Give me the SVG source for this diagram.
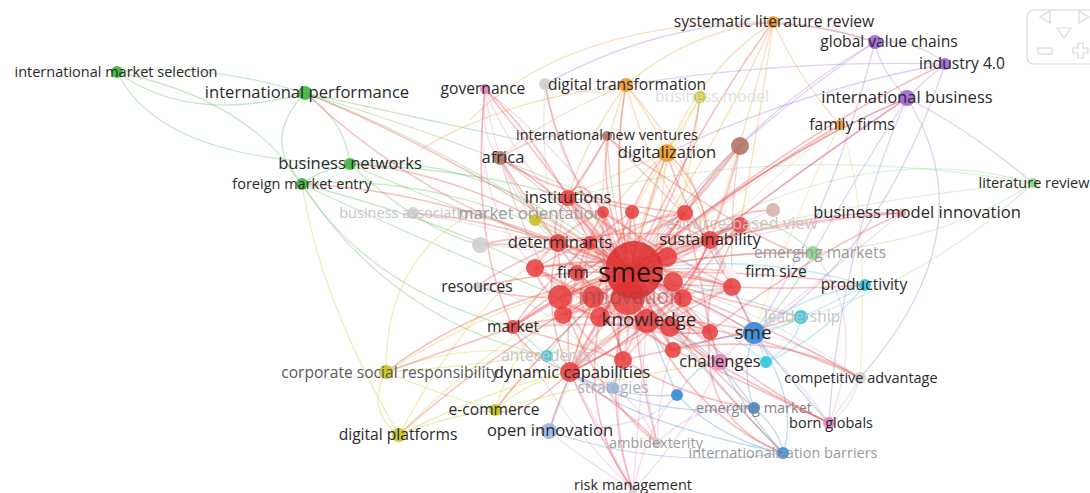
<svg xmlns="http://www.w3.org/2000/svg" width="1090" height="493" viewBox="0 0 1090 493">
<style>
.e{fill:none;stroke-width:1.3;stroke-opacity:.32}
.r{stroke:#ec5050;stroke-width:1.6;stroke-opacity:.36}.rr{stroke:#f06060;stroke-width:2.2;stroke-opacity:.3}
.g{stroke:#50b850}.lg{stroke:#8cd88c}.o{stroke:#f09a30}.lo{stroke:#f3c070}
.p{stroke:#a070d8}.y{stroke:#c8c828}.k{stroke:#e890c8}.n{stroke:#b07868}.gr{stroke:#c0c0c0}
.b{stroke:#3a88d8}.lb{stroke:#9ab8e6}.c{stroke:#30c4d8}
text{font-family:"Open Sans","Noto Sans","Liberation Sans",sans-serif;text-anchor:middle;fill:#2a2a2a}
text.f1{fill:#9a9a9a}text.f2{fill:#c4c4c4}text.f3{fill:#dedede}text.f4{fill:#5a5a5a}text.f5{fill:#858585}
text.fs{fill:#aab0c0}text.frbv{fill:#d2c0c0}text.finn{fill:#8a4848}text.fsmes{fill:#2a1010}
circle{fill-opacity:.9}
.cr{fill:#e63e3e;fill-opacity:.86}.cg{fill:#3cb43c}.co{fill:#f09a28}.cp{fill:#9c64d4}.cy{fill:#c4c41c}.ck{fill:#e684c2}
.cn{fill:#b07464}.cgr{fill:#cfcfcf}.cb{fill:#3888d6}.clb{fill:#9ab8e6}.cc{fill:#30c6da}.clg{fill:#8cd88c}
.s13{font-size:14.5px}.s14{font-size:15.6px}.s15{font-size:16.6px}.s17{font-size:18.8px}
</style>
<rect width="1090" height="493" fill="#ffffff"/>
<g id="edges">
<path class="e g" d="M117,72 Q205,62 305,93"/>
<path class="e g" d="M117,72 Q190,125 305,93"/>
<path class="e g" d="M117,72 Q160,160 350,164"/>
<path class="e g" d="M117,72 Q250,100 302,184"/>
<path class="e g" d="M305,93 Q345,120 350,164"/>
<path class="e g" d="M305,93 Q260,140 302,184"/>
<path class="e g" d="M305,93 Q460,150 630,272"/>
<path class="e g" d="M305,93 Q430,120 520,140"/>
<path class="e g" d="M305,93 Q460,140 600,200"/>
<path class="e g" d="M350,164 Q320,170 302,184"/>
<path class="e g" d="M350,164 Q490,150 630,272"/>
<path class="e g" d="M350,164 Q480,170 568,198"/>
<path class="e g" d="M350,164 Q430,200 558,243"/>
<path class="e g" d="M302,184 Q460,170 630,272"/>
<path class="e g" d="M302,184 Q420,240 560,297"/>
<path class="e g" d="M302,184 Q370,290 513,327"/>
<path class="e g" d="M302,184 Q390,320 547,356"/>
<path class="e g" d="M302,184 Q440,220 535,268"/>
<path class="e g" d="M350,164 Q420,230 480,245"/>
<path class="e g" d="M813,253 Q720,250 630,272"/>
<path class="e g" d="M813,253 Q790,300 754,333"/>
<path class="e g" d="M813,253 Q760,200 710,240"/>
<path class="e lg" d="M1033,183 Q850,130 630,272"/>
<path class="e lg" d="M1033,183 Q950,240 813,253"/>
<path class="e lg" d="M1033,183 Q920,290 754,333"/>
<path class="e lg" d="M1033,183 Q850,200 710,240"/>
<path class="e lg" d="M1033,183 Q780,140 568,198"/>
<path class="e o" d="M773,22 Q690,30 626,85"/>
<path class="e o" d="M773,22 Q700,70 667,153"/>
<path class="e o" d="M773,22 Q710,160 630,272"/>
<path class="e o" d="M773,22 Q740,150 710,240"/>
<path class="e o" d="M773,22 Q825,25 875,42"/>
<path class="e o" d="M773,22 Q800,80 840,125"/>
<path class="e o" d="M773,22 Q570,20 470,120"/>
<path class="e o" d="M773,22 Q760,120 740,225"/>
<path class="e o" d="M626,85 Q650,115 667,153"/>
<path class="e o" d="M626,85 Q610,180 630,272"/>
<path class="e o" d="M626,85 Q570,160 558,243"/>
<path class="e o" d="M626,85 Q650,170 685,213"/>
<path class="e o" d="M626,85 Q600,150 603,212"/>
<path class="e o" d="M626,85 Q700,170 710,240"/>
<path class="e o" d="M626,85 Q540,120 500,158"/>
<path class="e o" d="M626,85 Q500,100 420,150"/>
<path class="e o" d="M667,153 Q640,220 630,272"/>
<path class="e o" d="M667,153 Q600,180 568,198"/>
<path class="e o" d="M667,153 Q700,200 710,240"/>
<path class="e o" d="M667,153 Q600,260 570,372"/>
<path class="e o" d="M667,153 Q620,190 590,243"/>
<path class="e o" d="M667,153 Q660,220 647,321"/>
<path class="e lo" d="M840,125 Q740,190 630,272"/>
<path class="e lo" d="M840,125 Q800,200 754,333"/>
<path class="e lo" d="M840,125 Q780,170 710,240"/>
<path class="e lo" d="M840,125 Q870,200 860,378"/>
<path class="e p" d="M875,42 Q880,70 907,98"/>
<path class="e p" d="M875,42 Q920,40 945,64"/>
<path class="e p" d="M945,64 Q925,80 907,98"/>
<path class="e p" d="M907,98 Q760,160 630,272"/>
<path class="e p" d="M907,98 Q800,170 710,240"/>
<path class="e p" d="M875,42 Q740,120 630,272"/>
<path class="e p" d="M875,42 Q830,220 754,333"/>
<path class="e p" d="M945,64 Q880,260 754,333"/>
<path class="e p" d="M907,98 Q990,230 860,378"/>
<path class="e p" d="M907,98 Q970,130 1033,183"/>
<path class="e p" d="M945,64 Q780,60 626,85"/>
<path class="e p" d="M945,64 Q800,90 667,153"/>
<path class="e p" d="M545,84 Q720,-10 875,42"/>
<path class="e p" d="M907,98 Q840,250 829,423"/>
<path class="e p" d="M875,42 Q790,100 740,146"/>
<path class="e p" d="M907,98 Q860,170 813,253"/>
<path class="e y" d="M386,372 Q365,410 399,435"/>
<path class="e y" d="M386,372 Q440,395 495,410"/>
<path class="e y" d="M399,435 Q450,415 495,410"/>
<path class="e y" d="M386,372 Q500,300 630,272"/>
<path class="e y" d="M495,410 Q560,330 630,272"/>
<path class="e y" d="M399,435 Q500,330 630,272"/>
<path class="e y" d="M386,372 Q385,260 470,215"/>
<path class="e y" d="M399,435 Q500,385 570,372"/>
<path class="e y" d="M495,410 Q530,380 570,372"/>
<path class="e y" d="M399,435 Q320,300 302,184"/>
<path class="e y" d="M386,372 Q470,340 547,356"/>
<path class="e y" d="M495,410 Q520,330 563,315"/>
<path class="e y" d="M700,97 Q690,180 667,257"/>
<path class="e y" d="M700,97 Q650,190 630,272"/>
<path class="e y" d="M700,97 Q680,130 667,153"/>
<path class="e y" d="M495,410 Q600,380 720,362"/>
<path class="e y" d="M399,435 Q470,300 560,243"/>
<path class="e y" d="M386,372 Q560,360 630,330"/>
<path class="e y" d="M535,220 Q580,250 630,272"/>
<path class="e k" d="M485,89 Q520,180 630,272"/>
<path class="e k" d="M485,89 Q480,140 500,158"/>
<path class="e k" d="M485,89 Q560,150 603,212"/>
<path class="e k" d="M485,89 Q500,200 558,243"/>
<path class="e k" d="M485,89 Q470,200 535,268"/>
<path class="e k" d="M720,362 Q680,310 630,272"/>
<path class="e k" d="M720,362 Q740,340 754,333"/>
<path class="e k" d="M829,423 Q760,320 630,272"/>
<path class="e k" d="M829,423 Q870,320 813,253"/>
<path class="e k" d="M829,423 Q790,400 754,408"/>
<path class="e k" d="M829,423 Q850,395 860,378"/>
<path class="e k" d="M902,213 Q780,220 630,272"/>
<path class="e k" d="M902,213 Q820,280 754,333"/>
<path class="e k" d="M633,490 Q600,430 570,372"/>
<path class="e k" d="M633,490 Q610,420 623,360"/>
<path class="e k" d="M633,490 Q650,420 677,395"/>
<path class="e k" d="M633,490 Q570,450 549,431"/>
<path class="e k" d="M633,490 Q690,430 720,362"/>
<path class="e k" d="M633,490 Q640,400 647,321"/>
<path class="e k" d="M633,490 Q560,420 513,327"/>
<path class="e k" d="M657,443 Q630,380 570,372"/>
<path class="e k" d="M657,443 Q660,380 673,350"/>
<path class="e k" d="M657,443 Q700,400 754,408"/>
<path class="e n" d="M500,158 Q560,200 630,272"/>
<path class="e n" d="M500,158 Q520,230 560,297"/>
<path class="e n" d="M500,158 Q550,125 607,136"/>
<path class="e n" d="M607,136 Q610,200 630,272"/>
<path class="e n" d="M607,136 Q590,170 568,198"/>
<path class="e n" d="M740,146 Q690,200 630,272"/>
<path class="e n" d="M740,146 Q730,200 732,287"/>
<path class="e n" d="M740,146 Q710,180 685,213"/>
<path class="e n" d="M500,158 Q520,200 558,243"/>
<path class="e n" d="M607,136 Q670,200 710,240"/>
<path class="e gr" d="M545,84 Q560,180 630,272"/>
<path class="e gr" d="M545,84 Q540,170 558,243"/>
<path class="e gr" d="M545,84 Q600,100 626,85"/>
<path class="e gr" d="M480,245 Q560,250 630,272"/>
<path class="e gr" d="M413,213 Q520,230 630,272"/>
<path class="e gr" d="M860,378 Q750,300 630,272"/>
<path class="e gr" d="M860,378 Q800,340 754,333"/>
<path class="e gr" d="M860,378 Q850,410 829,423"/>
<path class="e gr" d="M773,210 Q700,240 630,272"/>
<path class="e gr" d="M657,443 Q640,350 630,272"/>
<path class="e gr" d="M478,287 Q550,270 630,272"/>
<path class="e b" d="M754,333 Q690,295 630,272"/>
<path class="e b" d="M754,333 Q740,370 754,408"/>
<path class="e b" d="M754,333 Q800,400 783,453"/>
<path class="e b" d="M754,333 Q790,380 829,423"/>
<path class="e b" d="M754,408 Q780,430 783,453"/>
<path class="e b" d="M677,395 Q720,440 783,453"/>
<path class="e b" d="M783,453 Q680,350 630,272"/>
<path class="e b" d="M783,453 Q620,420 570,372"/>
<path class="e b" d="M783,453 Q660,470 549,431"/>
<path class="e b" d="M754,408 Q650,420 570,372"/>
<path class="e b" d="M677,395 Q650,330 630,272"/>
<path class="e b" d="M677,395 Q700,360 720,362"/>
<path class="e b" d="M754,333 Q700,340 673,350"/>
<path class="e b" d="M754,408 Q700,330 647,321"/>
<path class="e b" d="M783,453 Q720,380 710,332"/>
<path class="e b" d="M677,395 Q620,400 570,372"/>
<path class="e b" d="M754,333 Q720,260 710,240"/>
<path class="e lb" d="M549,431 Q580,350 630,272"/>
<path class="e lb" d="M549,431 Q560,400 570,372"/>
<path class="e lb" d="M613,388 Q620,330 630,272"/>
<path class="e lb" d="M549,431 Q650,430 677,395"/>
<path class="e lb" d="M613,388 Q560,300 478,287"/>
<path class="e c" d="M865,285 Q800,295 754,333"/>
<path class="e c" d="M865,285 Q750,250 630,272"/>
<path class="e c" d="M801,317 Q720,290 630,272"/>
<path class="e c" d="M801,317 Q780,330 754,333"/>
<path class="e c" d="M766,362 Q760,345 754,333"/>
<path class="e c" d="M766,362 Q700,310 630,272"/>
<path class="e c" d="M547,356 Q580,310 630,272"/>
<path class="e c" d="M547,356 Q530,340 513,327"/>
<path class="e c" d="M547,356 Q560,370 570,372"/>
<path class="e c" d="M801,317 Q840,300 865,285"/>
<path class="e c" d="M766,362 Q800,340 801,317"/>
<path class="e c" d="M865,285 Q820,340 766,362"/>
<path class="e r" d="M630,272 Q590,225 568,198"/>
<path class="e r" d="M630,272 Q605,240 603,212"/>
<path class="e r" d="M630,272 Q640,240 632,212"/>
<path class="e r" d="M630,272 Q670,235 685,213"/>
<path class="e r" d="M630,272 Q700,235 740,225"/>
<path class="e r" d="M630,272 Q585,250 558,243"/>
<path class="e r" d="M630,272 Q600,250 590,243"/>
<path class="e r" d="M630,272 Q680,245 710,240"/>
<path class="e r" d="M630,272 Q580,260 535,268"/>
<path class="e r" d="M630,272 Q690,275 732,287"/>
<path class="e r" d="M630,272 Q590,290 560,297"/>
<path class="e r" d="M630,272 Q560,290 513,327"/>
<path class="e r" d="M630,272 Q630,300 647,321"/>
<path class="e r" d="M630,272 Q690,300 710,332"/>
<path class="e r" d="M630,272 Q660,320 673,350"/>
<path class="e r" d="M630,272 Q610,320 623,360"/>
<path class="e r" d="M630,272 Q590,330 570,372"/>
<path class="e r" d="M630,272 Q590,300 563,315"/>
<path class="e r" d="M630,272 Q610,300 600,317"/>
<path class="e r" d="M568,198 Q550,220 558,243"/>
<path class="e r" d="M568,198 Q600,270 647,321"/>
<path class="e r" d="M568,198 Q640,205 710,240"/>
<path class="e r" d="M558,243 Q630,225 710,240"/>
<path class="e r" d="M558,243 Q590,300 647,321"/>
<path class="e r" d="M558,243 Q540,310 570,372"/>
<path class="e r" d="M513,327 Q580,310 647,321"/>
<path class="e r" d="M513,327 Q610,260 710,240"/>
<path class="e r" d="M513,327 Q530,360 570,372"/>
<path class="e r" d="M570,372 Q620,350 647,321"/>
<path class="e r" d="M570,372 Q680,320 710,240"/>
<path class="e r" d="M577,273 Q610,300 647,321"/>
<path class="e r" d="M577,273 Q640,240 710,240"/>
<path class="e r" d="M732,287 Q650,330 570,372"/>
<path class="e r" d="M740,225 Q650,310 570,372"/>
<path class="e r" d="M740,225 Q620,260 513,327"/>
<path class="e r" d="M685,213 Q590,260 513,327"/>
<path class="e r" d="M685,213 Q620,300 570,372"/>
<path class="e r" d="M710,240 Q690,290 647,321"/>
<path class="e r" d="M647,321 Q680,320 710,332"/>
<path class="e r" d="M603,212 Q620,280 647,321"/>
<path class="e r" d="M632,212 Q590,300 570,372"/>
<path class="e r" d="M535,268 Q600,300 673,350"/>
<path class="e r" d="M560,297 Q640,280 732,287"/>
<path class="e r" d="M590,243 Q650,290 710,332"/>
<path class="e r" d="M630,272 Q560,190 500,158"/>
<path class="e r" d="M630,272 Q540,160 485,89"/>
<path class="e r" d="M630,272 Q450,150 305,93"/>
<path class="e r" d="M630,272 Q470,170 350,164"/>
<path class="e r" d="M630,272 Q450,190 302,184"/>
<path class="e r" d="M630,272 Q550,270 478,287"/>
<path class="e r" d="M630,272 Q780,210 902,213"/>
<path class="e r" d="M630,272 Q720,250 813,253"/>
<path class="e r" d="M630,272 Q690,265 730,272"/>
<path class="e r" d="M630,272 Q760,270 865,285"/>
<path class="e r" d="M630,272 Q720,300 801,317"/>
<path class="e r" d="M630,272 Q700,300 754,333"/>
<path class="e r" d="M630,272 Q760,320 860,378"/>
<path class="e r" d="M630,272 Q740,380 829,423"/>
<path class="e r" d="M630,272 Q700,360 754,408"/>
<path class="e r" d="M630,272 Q710,380 783,453"/>
<path class="e r" d="M630,272 Q640,380 657,443"/>
<path class="e r" d="M630,272 Q600,400 633,490"/>
<path class="e r" d="M630,272 Q570,360 549,431"/>
<path class="e r" d="M630,272 Q540,350 495,410"/>
<path class="e r" d="M630,272 Q480,300 386,372"/>
<path class="e r" d="M630,272 Q480,360 399,435"/>
<path class="e r" d="M630,272 Q760,170 840,125"/>
<path class="e r" d="M630,272 Q760,160 907,98"/>
<path class="e r" d="M630,272 Q800,130 945,64"/>
<path class="e r" d="M630,272 Q700,120 773,22"/>
<path class="e r" d="M630,272 Q610,170 626,85"/>
<path class="e r" d="M630,272 Q650,200 667,153"/>
<path class="e r" d="M630,272 Q600,200 607,136"/>
<path class="e r" d="M630,272 Q700,200 740,146"/>
<path class="e r" d="M630,272 Q690,180 700,97"/>
<path class="e r" d="M630,272 Q560,170 545,84"/>
<path class="e r" d="M630,272 Q550,240 480,245"/>
<path class="e r" d="M630,272 Q510,220 413,213"/>
<path class="e r" d="M630,272 Q700,360 720,362"/>
<path class="e r" d="M630,272 Q720,210 773,210"/>
<path class="e r" d="M647,321 Q740,380 829,423"/>
<path class="e r" d="M647,321 Q720,320 754,333"/>
<path class="e r" d="M647,321 Q760,330 860,378"/>
<path class="e r" d="M647,321 Q700,420 783,453"/>
<path class="e r" d="M570,372 Q640,420 657,443"/>
<path class="e r" d="M570,372 Q600,440 633,490"/>
<path class="e r" d="M558,243 Q520,190 500,158"/>
<path class="e r" d="M568,198 Q530,130 485,89"/>
<path class="e r" d="M568,198 Q600,150 607,136"/>
<path class="e r" d="M710,240 Q700,180 667,153"/>
<path class="e r" d="M710,240 Q730,190 740,146"/>
<path class="e r" d="M710,240 Q800,220 902,213"/>
<path class="e r" d="M710,240 Q800,170 907,98"/>
<path class="e r" d="M685,213 Q720,160 740,146"/>
<path class="e r" d="M558,243 Q420,200 305,93"/>
<path class="e r" d="M513,327 Q420,360 386,372"/>
<path class="e r" d="M570,372 Q520,420 495,410"/>
<path class="e r" d="M732,287 Q800,290 865,285"/>
<path class="e r" d="M732,287 Q750,320 754,333"/>
<path class="e r" d="M710,332 Q720,360 720,362"/>
<path class="e r" d="M623,360 Q690,400 754,408"/>
<path class="e r" d="M673,350 Q740,380 829,423"/>
<path class="e r" d="M740,225 Q800,260 813,253"/>
<path class="e r" d="M603,212 Q580,170 568,198"/>
<path class="e r" d="M632,212 Q650,170 667,153"/>
<path class="e r" d="M560,297 Q520,300 478,287"/>
<path class="e r" d="M590,243 Q540,230 480,245"/>
<path class="e r" d="M535,268 Q600,230 685,213"/>
<path class="e r" d="M535,268 Q620,250 732,287"/>
<path class="e r" d="M560,297 Q620,250 685,213"/>
<path class="e r" d="M593,297 Q660,260 740,225"/>
<path class="e r" d="M563,315 Q640,270 710,240"/>
<path class="e r" d="M600,317 Q650,260 685,213"/>
<path class="e r" d="M670,327 Q610,280 558,243"/>
<path class="e r" d="M710,332 Q640,270 590,243"/>
<path class="e r" d="M673,350 Q590,300 535,268"/>
<path class="e r" d="M623,360 Q600,290 603,212"/>
<path class="e r" d="M683,298 Q600,260 568,198"/>
<path class="e r" d="M732,287 Q640,240 603,212"/>
<path class="e r" d="M513,327 Q560,260 632,212"/>
<path class="e r" d="M570,372 Q560,290 603,212"/>
<path class="e r" d="M710,332 Q700,270 685,213"/>
<path class="e r" d="M647,321 Q600,240 568,198"/>
<path class="e r" d="M673,282 Q620,300 563,315"/>
<path class="e r" d="M667,257 Q600,280 560,297"/>
<path class="e r" d="M683,298 Q610,330 570,372"/>
<path class="e r" d="M623,360 Q560,340 513,327"/>
<path class="e r" d="M577,273 Q620,330 623,360"/>
<path class="e r" d="M740,225 Q700,300 710,332"/>
<path class="e r" d="M685,213 Q560,200 500,158"/>
<path class="e r" d="M740,225 Q620,150 607,136"/>
<path class="e r" d="M732,287 Q680,200 667,153"/>
<path class="e r" d="M513,327 Q470,240 485,89"/>
<path class="e r" d="M710,332 Q800,260 902,213"/>
<path class="e r" d="M623,360 Q720,340 801,317"/>
<path class="e r" d="M673,350 Q780,330 860,378"/>
<path class="e r" d="M560,297 Q600,400 657,443"/>
<path class="e r" d="M600,317 Q580,420 633,490"/>
<path class="e r" d="M710,332 Q700,420 783,453"/>
<path class="e r" d="M558,243 Q480,280 478,287"/>
<path class="e rr" d="M535,268 Q600,260 667,257"/>
<path class="e rr" d="M535,268 Q600,320 670,327"/>
<path class="e rr" d="M560,297 Q620,340 710,332"/>
<path class="e rr" d="M563,315 Q640,300 732,287"/>
<path class="e rr" d="M590,243 Q640,300 673,350"/>
<path class="e rr" d="M603,212 Q640,300 623,360"/>
<path class="e rr" d="M632,212 Q620,300 600,317"/>
<path class="e rr" d="M685,213 Q650,300 623,360"/>
<path class="e rr" d="M558,243 Q660,270 732,287"/>
<path class="e rr" d="M568,198 Q660,260 683,298"/>
<path class="e rr" d="M710,240 Q630,290 563,315"/>
<path class="e rr" d="M740,225 Q640,270 560,297"/>
<path class="e rr" d="M513,327 Q620,320 710,332"/>
<path class="e rr" d="M570,372 Q640,300 683,298"/>
<path class="e rr" d="M623,360 Q680,300 740,225"/>
<path class="e rr" d="M673,350 Q620,260 632,212"/>
<path class="e rr" d="M710,332 Q620,250 603,212"/>
<path class="e rr" d="M535,268 Q560,230 603,212"/>
<path class="e rr" d="M577,273 Q650,210 685,213"/>
<path class="e rr" d="M593,297 Q660,340 710,332"/>
<path class="e rr" d="M600,317 Q540,300 535,268"/>
<path class="e rr" d="M647,321 Q700,300 732,287"/>
<path class="e rr" d="M670,327 Q700,260 710,240"/>
<path class="e rr" d="M563,315 Q560,260 590,243"/>
<path class="e rr" d="M673,282 Q640,230 603,212"/>
<path class="e rr" d="M667,257 Q610,230 568,198"/>
<path class="e rr" d="M683,298 Q700,340 673,350"/>
<path class="e rr" d="M558,243 Q560,340 623,360"/>
<path class="e rr" d="M590,243 Q570,330 600,317"/>
<path class="e rr" d="M732,287 Q720,240 685,213"/>
</g>
<g id="nodes">
<g id="n-international-market-selection"><circle class="cg" cx="117" cy="72" r="6"/><text class="s13" x="116" y="77">international market selection</text></g>
<g id="n-international-performance"><circle class="cg" cx="305" cy="93" r="7"/><text class="s15" x="307" y="98">international performance</text></g>
<g id="n-business-networks"><circle class="cg" cx="350" cy="164" r="6"/><text class="s15" x="350" y="169">business networks</text></g>
<g id="n-foreign-market-entry"><circle class="cg" cx="302" cy="184" r="6"/><text class="s13" x="302" y="189">foreign market entry</text></g>
<g id="n-governance"><circle class="ck" cx="485" cy="89" r="5"/><text class="s14" x="483" y="94">governance</text></g>
<g id="n-gray-84"><circle class="cgr" cx="545" cy="84" r="6"/></g>
<g id="n-digital-transformation"><circle class="co" cx="626" cy="85" r="7"/><text class="s14" x="627" y="90">digital transformation</text></g>
<g id="n-business-model"><circle class="cy" cx="700" cy="97" r="6" fill-opacity=".6"/><text class="f3 s14" x="712" y="102">business model</text></g>
<g id="n-systematic-literature-review"><circle class="co" cx="773" cy="22" r="6"/><text class="s14" x="774" y="27">systematic literature review</text></g>
<g id="n-global-value-chains"><circle class="cp" cx="875" cy="42" r="7"/><text class="s14" x="889" y="47">global value chains</text></g>
<g id="n-industry-4-0"><circle class="cp" cx="945" cy="64" r="6"/><text class="s14" x="962" y="69">industry 4.0</text></g>
<g id="n-international-business"><circle class="cp" cx="907" cy="98" r="8"/><text class="s15" x="907" y="103">international business</text></g>
<g id="n-family-firms"><circle class="co" cx="840" cy="125" r="5" fill-opacity=".5"/><text class="s14" x="852" y="130">family firms</text></g>
<g id="n-international-new-ventures"><circle class="cn" cx="607" cy="136" r="5"/><text class="s13" x="607" y="140">international new ventures</text></g>
<g id="n-digitalization"><circle class="co" cx="667" cy="153" r="9"/><text class="s15" x="667" y="158">digitalization</text></g>
<g id="n-brown-146"><circle class="cn" cx="740" cy="146" r="9"/></g>
<g id="n-africa"><circle class="cn" cx="500" cy="158" r="7"/><text class="s15" x="503" y="163">africa</text></g>
<g id="n-literature-review"><circle class="clg" cx="1033" cy="183" r="5"/><text class="s13" x="1034" y="188">literature review</text></g>
<g id="n-business-associations"><circle class="cgr" cx="413" cy="213" r="6"/><text class="f2 s13" x="412" y="218">business associations</text></g>
<g id="n-market-orientation"><circle class="cy" cx="535" cy="220" r="6" fill-opacity=".5"/><text class="f1 s15" x="531" y="219">market orientation</text></g>
<g id="n-gray-210"><circle cx="773" cy="210" r="7" fill="#d4b4ac"/></g>
<g id="n-business-model-innovation"><circle cx="902" cy="213" r="4" fill="#e8a0a8"/><text class="s15" x="917" y="218">business model innovation</text></g>
<g id="n-gray-245"><circle class="cgr" cx="480" cy="245" r="8"/></g>
<g id="n-resources"><circle class="cgr" cx="478" cy="287" r="5"/><text class="s14" x="477" y="292">resources</text></g>
<g id="n-emerging-markets"><circle class="clg" cx="813" cy="253" r="7"/><text class="f1 s14" x="820" y="258">emerging markets</text></g>
<g id="n-productivity"><circle class="cc" cx="865" cy="285" r="6" fill-opacity=".6"/><text class="s14" x="864" y="290">productivity</text></g>
<g id="n-leadership"><circle class="cc" cx="801" cy="317" r="7"/><text class="f2 s14" x="802" y="322">leadership</text></g>
<g id="n-red-cluster">
<circle class="cr" cx="603" cy="212" r="6"/>
<circle class="cr" cx="632" cy="212" r="7"/>
<circle class="cr" cx="685" cy="213" r="8"/>
<circle class="cr" cx="590" cy="243" r="7"/>
<circle class="cr" cx="535" cy="268" r="9"/>
<circle class="cr" cx="667" cy="257" r="10"/>
<circle class="cr" cx="673" cy="282" r="10"/>
<circle class="cr" cx="732" cy="287" r="9"/>
<circle class="cr" cx="560" cy="297" r="12"/>
<circle class="cr" cx="593" cy="297" r="11"/>
<circle class="cr" cx="683" cy="298" r="9"/>
<circle class="cr" cx="563" cy="315" r="9"/>
<circle class="cr" cx="600" cy="317" r="10"/>
<circle class="cr" cx="670" cy="327" r="10"/>
<circle class="cr" cx="710" cy="332" r="8"/>
<circle class="cr" cx="673" cy="350" r="8"/>
<circle class="cr" cx="623" cy="360" r="9"/>
</g>
<g id="n-resource-based-view"><circle class="cr" cx="740" cy="225" r="8"/><text class="s15 frbv" x="738" y="229">resource-based view</text></g>
<g id="n-institutions"><circle class="cr" cx="568" cy="198" r="8"/><text class="s15" x="568" y="203">institutions</text></g>
<g id="n-determinants"><circle class="cr" cx="558" cy="243" r="9"/><text class="s15" x="560" y="248">determinants</text></g>
<g id="n-sustainability"><circle class="cr" cx="710" cy="240" r="9"/><text class="s15" x="710" y="245">sustainability</text></g>
<g id="n-innovation"><circle class="cr" cx="628" cy="298" r="17"/></g>
<g id="n-smes"><circle class="cr" cx="634" cy="270" r="29" style="fill:#dc3030"/></g>
<g id="n-knowledge"><circle class="cr" cx="647" cy="321" r="12"/><text class="s17" x="649" y="326">knowledge</text></g>
<g id="n-firm"><circle class="cr" cx="577" cy="273" r="8"/><text class="s15" x="573" y="278">firm</text></g>
<g id="n-firm-size"><circle cx="730" cy="272" r="6" fill="#fff2f2"/><text class="s14" x="776" y="277">firm size</text></g>
<g id="n-market"><circle class="cr" cx="513" cy="327" r="7"/><text class="s14" x="513" y="332">market</text></g>
<g id="n-dynamic-capabilities"><circle class="cr" cx="570" cy="372" r="10"/><text class="s15" x="572" y="378">dynamic capabilities</text></g>
<g id="n-sme"><circle class="cb" cx="754" cy="333" r="11"/><text class="s17" x="753" y="339">sme</text></g>
<g id="n-antecedents"><circle class="cc" cx="547" cy="356" r="6"/><text class="f2 s14" x="546" y="361">antecedents</text></g>
<g id="n-challenges"><circle class="ck" cx="720" cy="362" r="8"/><text class="s15" x="720" y="367">challenges</text></g>
<g id="n-cyan-362"><circle class="cc" cx="766" cy="362" r="6"/></g>
<g id="n-corporate-social-responsibility"><circle class="cy" cx="386" cy="372" r="7"/><text class="s14 f4" x="390" y="378">corporate social responsibility</text></g>
<g id="n-strategies"><circle class="clb" cx="613" cy="388" r="6"/><text class="s14 fs" x="613" y="393">strategies</text></g>
<g id="n-competitive-advantage"><circle class="cgr" cx="860" cy="378" r="6"/><text class="s13" x="861" y="383">competitive advantage</text></g>
<g id="n-blue-395"><circle class="cb" cx="677" cy="395" r="6"/></g>
<g id="n-e-commerce"><circle class="cy" cx="495" cy="410" r="6"/><text class="s14" x="494" y="415">e-commerce</text></g>
<g id="n-emerging-market"><circle class="cb" cx="754" cy="408" r="6"/><text class="s13 f5" x="754" y="413">emerging market</text></g>
<g id="n-born-globals"><circle class="ck" cx="829" cy="423" r="6"/><text class="s13" x="831" y="428">born globals</text></g>
<g id="n-digital-platforms"><circle class="cy" cx="399" cy="435" r="7"/><text class="s14" x="398" y="440">digital platforms</text></g>
<g id="n-open-innovation"><circle class="clb" cx="549" cy="431" r="8"/><text class="s15" x="550" y="436">open innovation</text></g>
<g id="n-ambidexterity"><circle class="cgr" cx="657" cy="443" r="5"/><text class="f1 s13" x="656" y="448">ambidexterity</text></g>
<g id="n-internationalization-barriers"><circle class="cb" cx="783" cy="453" r="6"/><text class="f1 s13" x="783" y="458">internationalization barriers</text></g>
<g id="n-risk-management"><circle class="cgr" cx="633" cy="491" r="4"/><text class="s13" x="633" y="490">risk management</text></g>
<g id="labels-top">
<text class="finn" x="630" y="304" font-size="21" opacity=".55">innovation</text>
<text class="fsmes" x="631" y="282" font-size="27">smes</text>
</g>
</g>
<g id="navigator" fill="none" stroke="#d8d8d8" stroke-width="1.2">
<rect x="1027" y="10" width="80" height="54" rx="7"/>
<path d="M1050,11 L1040,17 L1050,23 Z"/>
<path d="M1079,11 L1089,17 L1079,23 Z"/>
<path d="M1057,28 L1071,28 L1064,38 Z"/>
<rect x="1038" y="48" width="14" height="6"/>
<path d="M1078,43 h5 v5 h5 v5 h-5 v5 h-5 v-5 h-5 v-5 h5 Z"/>
</g>
</svg>
